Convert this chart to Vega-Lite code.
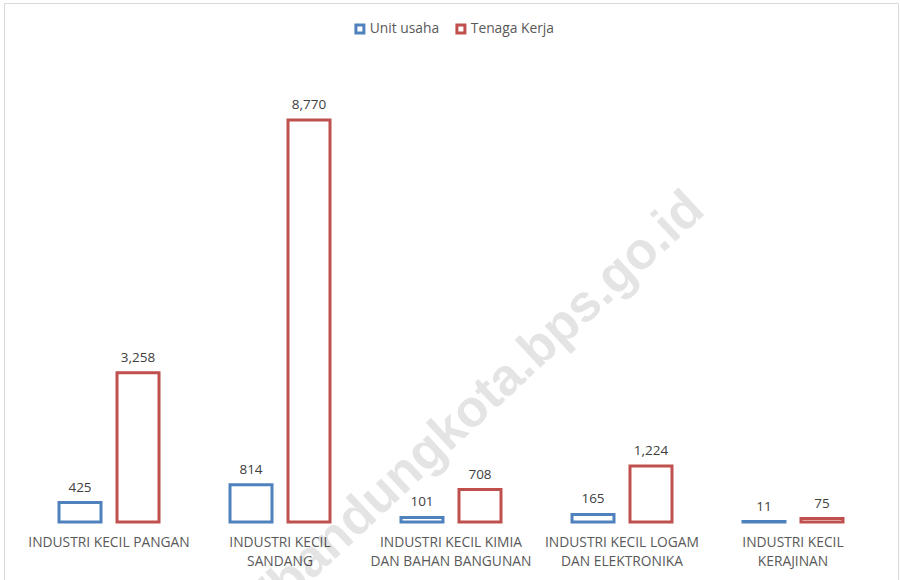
{
  "$schema": "https://vega.github.io/schema/vega-lite/v6.json",
  "width": 894,
  "height": 577,
  "autosize": {"type": "none"},
  "padding": {"left": 4, "top": 3, "right": 2, "bottom": 0},
  "background": "white",
  "config": {
    "view": {"stroke": "#d9d9d9", "strokeWidth": 1},
    "font": "Open Sans"
  },
  "data": {
    "values": [
      {"kategori": "INDUSTRI KECIL PANGAN", "seri": "Unit usaha", "nilai": 425},
      {"kategori": "INDUSTRI KECIL PANGAN", "seri": "Tenaga Kerja", "nilai": 3258},
      {"kategori": "INDUSTRI KECIL SANDANG", "seri": "Unit usaha", "nilai": 814},
      {"kategori": "INDUSTRI KECIL SANDANG", "seri": "Tenaga Kerja", "nilai": 8770},
      {"kategori": "INDUSTRI KECIL KIMIA DAN BAHAN BANGUNAN", "seri": "Unit usaha", "nilai": 101},
      {"kategori": "INDUSTRI KECIL KIMIA DAN BAHAN BANGUNAN", "seri": "Tenaga Kerja", "nilai": 708},
      {"kategori": "INDUSTRI KECIL LOGAM DAN ELEKTRONIKA", "seri": "Unit usaha", "nilai": 165},
      {"kategori": "INDUSTRI KECIL LOGAM DAN ELEKTRONIKA", "seri": "Tenaga Kerja", "nilai": 1224},
      {"kategori": "INDUSTRI KECIL KERAJINAN", "seri": "Unit usaha", "nilai": 11},
      {"kategori": "INDUSTRI KECIL KERAJINAN", "seri": "Tenaga Kerja", "nilai": 75}
    ]
  },
  "layer": [
    {
      "mark": {"type": "bar", "fill": "white", "strokeWidth": 3, "strokeJoin": "miter"},
      "encoding": {
        "x": {
          "field": "kategori", "type": "nominal", "sort": null,
          "scale": {"paddingInner": 0.4152, "paddingOuter": 0.3217},
          "axis": {
            "title": null, "labelAngle": 0, "domain": false, "ticks": false, "grid": false,
            "orient": "bottom", "offset": -58, "labelPadding": 13,
            "labelFontSize": 13.8, "labelColor": "#595959", "labelLineHeight": 19,
            "labelFont": "Open Sans", "labelLimit": 300,
            "labelExpr": "datum.label == 'INDUSTRI KECIL PANGAN' ? datum.label : (indexof(datum.label, ' DAN ') > 0 ? [substring(datum.label, 0, indexof(datum.label, ' DAN ')), substring(datum.label, indexof(datum.label, ' DAN ') + 1)] : ['INDUSTRI KECIL', substring(datum.label, 15)])"
          }
        },
        "xOffset": {
          "field": "seri", "type": "nominal", "sort": ["Unit usaha", "Tenaga Kerja"],
          "scale": {"paddingInner": 0.2759, "paddingOuter": 0}
        },
        "y": {
          "field": "nilai", "type": "quantitative",
          "scale": {"domain": [-1265, 11322], "nice": false, "zero": false},
          "axis": null
        },
        "y2": {"datum": 0},
        "stroke": {
          "field": "seri", "type": "nominal",
          "scale": {"domain": ["Unit usaha", "Tenaga Kerja"], "range": ["#4F81BD", "#C0504D"]},
          "legend": {
            "orient": "none", "legendX": 349, "legendY": 19, "direction": "horizontal",
            "title": null, "symbolType": "square", "symbolSize": 64, "symbolStrokeWidth": 3,
            "symbolFillColor": "white", "labelFontSize": 13.8, "labelColor": "#595959",
            "labelFont": "Open Sans", "labelOffset": 3, "columnPadding": 10, "padding": 0
          }
        }
      }
    },
    {
      "mark": {"type": "text", "dy": -11, "baseline": "alphabetic", "fontSize": 13.5, "color": "#404040", "font": "Open Sans"},
      "encoding": {
        "x": {"field": "kategori", "type": "nominal", "sort": null},
        "xOffset": {"field": "seri", "type": "nominal", "sort": ["Unit usaha", "Tenaga Kerja"]},
        "y": {"field": "nilai", "type": "quantitative"},
        "text": {"field": "nilai", "type": "quantitative", "format": ","}
      }
    },
    {
      "data": {"values": [{"teks": "https://bandungkota.bps.go.id"}]},
      "mark": {
        "type": "text", "angle": 317, "fontSize": 52, "fontWeight": "bold",
        "font": "Liberation Sans", "color": "#000000", "opacity": 0.1,
        "align": "center", "baseline": "middle", "dx": -38
      },
      "encoding": {
        "x": {"datum": "INDUSTRI KECIL KIMIA DAN BAHAN BANGUNAN"},
        "y": {"datum": 2029},
        "text": {"field": "teks"}
      }
    }
  ]
}
